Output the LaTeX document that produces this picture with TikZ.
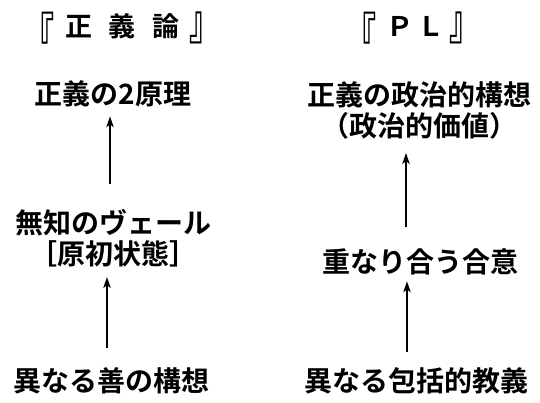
\documentclass[tikz,border=0pt]{standalone}
\usepackage{fontspec}
\setmainfont{Noto Sans CJK JP}[BoldFont={Noto Sans CJK JP Bold}]
\usetikzlibrary{arrows.meta}
\begin{document}
\begin{tikzpicture}[x=1pt,y=1pt,
  lbl/.style={inner sep=0pt, font=\fontsize{28}{31}\selectfont\bfseries, align=center},
  ttl/.style={inner sep=0pt, font=\fontsize{27}{30}\selectfont\bfseries},
  brk/.style={inner sep=0pt, anchor=north, font=\fontsize{27}{30}\selectfont\bfseries},
  arr/.style={line width=1.3pt, -{Stealth[length=11pt,width=7.5pt,inset=3pt]}}]
\useasboundingbox (0,0) rectangle (540,403);
% titles
\node[ttl] (t1) at (122.5,377) {正\hspace{17pt}義\hspace{17pt}論};
\node[brk] (t1l) at (39.5,391) {\scalebox{1.15}[1.8]{『}};
\node[brk] (t1r) at (205.5,391) {\scalebox{1.15}[1.8]{』}};
\node[ttl] (t2) at (415,377) {Ｐ\hspace{4pt}Ｌ};
\node[brk] (t2l) at (361,391) {\scalebox{1.15}[1.8]{『}};
\node[brk] (t2r) at (465,391) {\scalebox{1.15}[1.8]{』}};
% labels
\node[lbl] (a1) at (113,309) {正義の2原理};
\node[lbl] (b1) at (113,165) {無知のヴェール\\［原初状態］};
\node[lbl] (c1) at (111,22) {異なる善の構想};
\node[lbl] (a2) at (419,293) {正義の政治的構想\\（政治的価値）};
\node[lbl] (b2) at (420,141) {重なり合う合意};
\node[lbl] (c2) at (416,22) {異なる包括的教義};
% arrows
\draw[arr, shorten <=25pt, shorten >=9pt] ([xshift=-3pt]b1.north) -- ([xshift=-3pt]b1.north |- a1.south);
\draw[arr, shorten <=20pt, shorten >=10pt] ([xshift=-4pt]c1.north) -- ([xshift=-4pt]c1.north |- b1.south);
\draw[arr, shorten <=22pt, shorten >=14pt] ([xshift=-14pt]b2.north) -- ([xshift=-14pt]b2.north |- a2.south);
\draw[arr, shorten <=16pt, shorten >=6pt] ([xshift=-9pt]c2.north) -- ([xshift=-9pt]c2.north |- b2.south);
\end{tikzpicture}
\end{document}
